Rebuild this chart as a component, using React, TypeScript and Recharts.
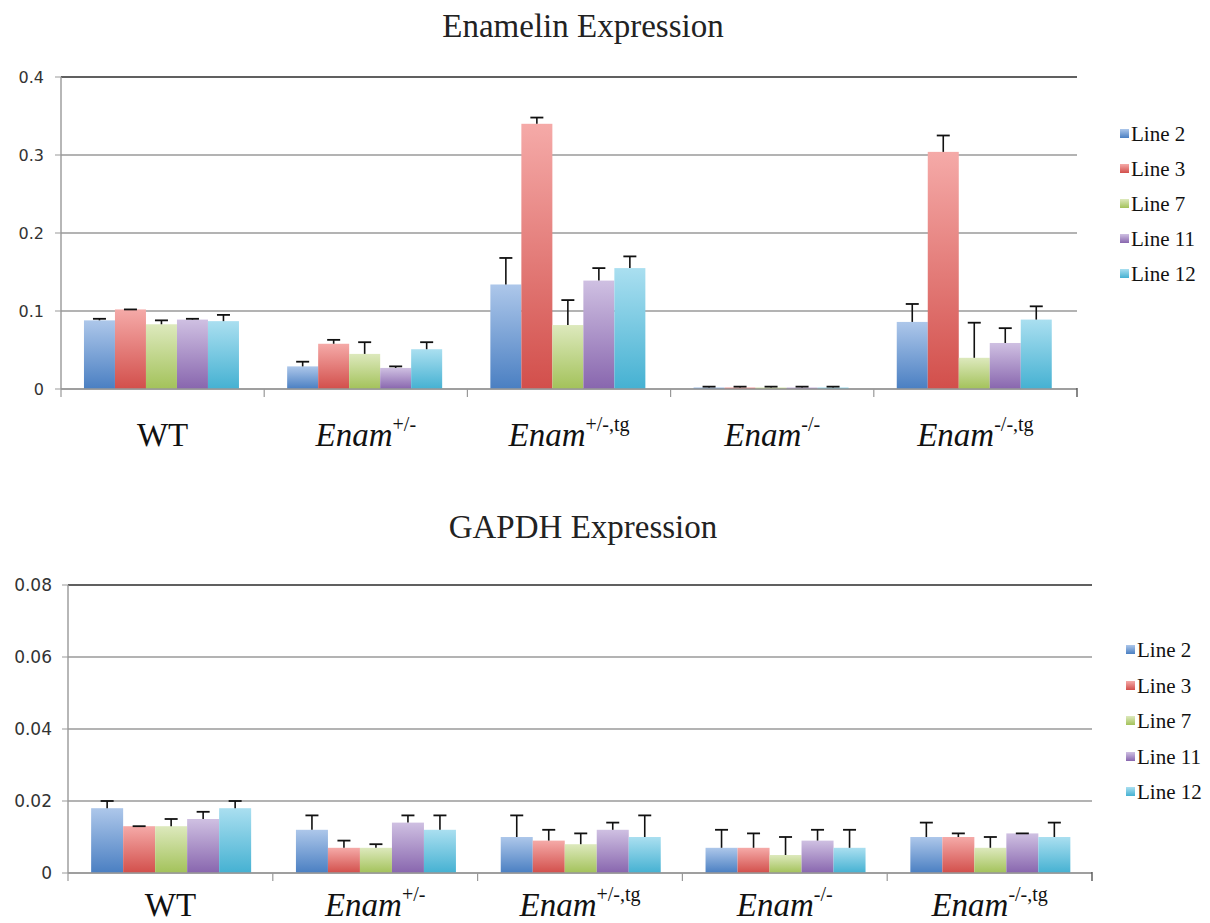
import { BarChart, Bar, XAxis, YAxis, CartesianGrid, Legend, ReferenceLine } from "recharts";

const categories = ["WT", "Enam+/-", "Enam+/-,tg", "Enam-/-", "Enam-/-,tg"];
const categoryBase = ["WT", "Enam", "Enam", "Enam", "Enam"];
const categorySup = ["", "+/-", "+/-,tg", "-/-", "-/-,tg"];

const seriesNames = ["Line 2", "Line 3", "Line 7", "Line 11", "Line 12"];
const seriesKeys = ["line2", "line3", "line7", "line11", "line12"];

// Enamelin expression (mean, upper error)
const enamLine2 = [0.088, 0.029, 0.134, 0.002, 0.086];
const enamLine2Err = [0.002, 0.006, 0.034, 0.001, 0.023];
const enamLine3 = [0.102, 0.058, 0.34, 0.002, 0.304];
const enamLine3Err = [0.0, 0.005, 0.008, 0.001, 0.021];
const enamLine7 = [0.083, 0.045, 0.082, 0.002, 0.04];
const enamLine7Err = [0.005, 0.015, 0.032, 0.001, 0.045];
const enamLine11 = [0.089, 0.027, 0.139, 0.002, 0.059];
const enamLine11Err = [0.001, 0.002, 0.016, 0.001, 0.019];
const enamLine12 = [0.087, 0.051, 0.155, 0.002, 0.089];
const enamLine12Err = [0.008, 0.009, 0.015, 0.001, 0.017];

// GAPDH expression
const gapdhLine2 = [0.018, 0.012, 0.01, 0.007, 0.01];
const gapdhLine2Err = [0.002, 0.004, 0.006, 0.005, 0.004];
const gapdhLine3 = [0.013, 0.007, 0.009, 0.007, 0.01];
const gapdhLine3Err = [0.0, 0.002, 0.003, 0.004, 0.001];
const gapdhLine7 = [0.013, 0.007, 0.008, 0.005, 0.007];
const gapdhLine7Err = [0.002, 0.001, 0.003, 0.005, 0.003];
const gapdhLine11 = [0.015, 0.014, 0.012, 0.009, 0.011];
const gapdhLine11Err = [0.002, 0.002, 0.002, 0.003, 0.0];
const gapdhLine12 = [0.018, 0.012, 0.01, 0.007, 0.01];
const gapdhLine12Err = [0.002, 0.004, 0.006, 0.005, 0.004];

const enamTicks = [0, 0.1, 0.2, 0.3, 0.4];
const gapdhTicks = [0, 0.02, 0.04, 0.06, 0.08];

// top / bottom colour of each bar gradient
const gradTop = ["#adc7ea", "#f5aaa8", "#dde9bd", "#cfc0e2", "#aadff0"];
const gradBottom = ["#4a7fc2", "#d24f4b", "#a3c25a", "#8866ae", "#45b1d2"];

const serif = "'Liberation Serif', 'Times New Roman', serif";
const sans = "'DejaVu Sans', sans-serif";

function buildRows(values: number[][], errors: number[][]) {
  return categories.map((name, i) => {
    const row: any = { name };
    seriesKeys.forEach((k, s) => {
      row[k] = values[s][i];
      row[k + "Err"] = errors[s][i];
    });
    return row;
  });
}

const enamData = buildRows(
  [enamLine2, enamLine3, enamLine7, enamLine11, enamLine12],
  [enamLine2Err, enamLine3Err, enamLine7Err, enamLine11Err, enamLine12Err]
);
const gapdhData = buildRows(
  [gapdhLine2, gapdhLine3, gapdhLine7, gapdhLine11, gapdhLine12],
  [gapdhLine2Err, gapdhLine3Err, gapdhLine7Err, gapdhLine11Err, gapdhLine12Err]
);

// bar with a one-sided (upward) error whisker
const makeShape = (key: string, grad: string) => (props: any) => {
  const { x, y, width, height, payload } = props;
  const v = payload[key];
  const e = payload[key + "Err"];
  const errPx = v > 0 ? (height * e) / v : 0;
  const cx = x + width / 2;
  const top = y - errPx;
  return (
    <g>
      <rect x={x} y={y} width={width} height={height} fill={`url(#${grad})`} />
      {errPx > 0.5 && <line x1={cx} x2={cx} y1={y} y2={top} stroke="#111" strokeWidth={1.6} />}
      <line x1={cx - 6.5} x2={cx + 6.5} y1={top} y2={top} stroke="#111" strokeWidth={1.8} />
    </g>
  );
};

const makeTick = (labelDy: number, count: number) => (props: any) => {
  const { x, y, payload, index } = props;
  const half = payload?.offset ?? 0;
  const i = index ?? categories.indexOf(payload.value);
  const base = categoryBase[i];
  const sup = categorySup[i];
  return (
    <g>
      <line x1={x - half} x2={x - half} y1={y} y2={y + 8} stroke="#999" strokeWidth={1.2} />
      {i === count - 1 && (
        <line x1={x + half} x2={x + half} y1={y - 1} y2={y + 8} stroke="#555" strokeWidth={1.4} />
      )}
      <text
        x={x}
        y={y + labelDy}
        textAnchor="middle"
        style={{ fontFamily: serif, fontSize: 33, fill: "#111" }}
      >
        <tspan style={{ fontStyle: base === "WT" ? "normal" : "italic" }}>{base}</tspan>
        {sup && (
          <tspan dy={-15} style={{ fontSize: 20, fontStyle: "normal" }}>
            {sup}
          </tspan>
        )}
      </text>
    </g>
  );
};

const makeLegend = (rowHeight: number) => () => (
  <div style={{ fontFamily: serif, fontSize: 21, color: "#111", whiteSpace: "nowrap", width: 100 }}>
    {seriesNames.map((n, s) => (
      <div key={n} style={{ display: "flex", height: rowHeight, lineHeight: `${rowHeight}px` }}>
        <div
          style={{
            flex: "0 0 9px",
            width: 9,
            height: 9,
            marginTop: 12,
            marginRight: 2,
            background: `linear-gradient(${gradTop[s]}, ${gradBottom[s]})`,
          }}
        />
        <span>{n}</span>
      </div>
    ))}
  </div>
);

type PanelProps = {
  id: string;
  data: any[];
  yMax: number;
  ticks: number[];
  height: number;
  top: number;
  right: number;
  yWidth: number;
  xHeight: number;
  labelDy: number;
  tickFont: number;
  tickGap: number;
  legendLeft: number;
  legendTop: number;
  rowHeight: number;
};

function Panel(p: PanelProps) {
  return (
    <BarChart
      width={1210}
      height={p.height}
      data={p.data}
      margin={{ top: p.top, right: p.right, left: 0, bottom: 0 }}
      barCategoryGap="11.3%"
      barGap={0}
    >
      <defs>
        {seriesKeys.map((k, s) => (
          <linearGradient key={k} id={`${p.id}-${k}`} x1="0" y1="0" x2="0" y2="1">
            <stop offset="0%" stopColor={gradTop[s]} />
            <stop offset="100%" stopColor={gradBottom[s]} />
          </linearGradient>
        ))}
      </defs>
      <CartesianGrid vertical={false} stroke="#9a9a9a" strokeWidth={1.4} yAxisId="left" />
      <XAxis
        dataKey="name"
        interval={0}
        tickLine={false}
        tickSize={0}
        tickMargin={0}
        height={p.xHeight}
        axisLine={{ stroke: "#999", strokeWidth: 1.4 }}
        tick={makeTick(p.labelDy, categories.length)}
      />
      <YAxis
        yAxisId="left"
        domain={[0, p.yMax]}
        ticks={p.ticks}
        width={p.yWidth}
        tickFormatter={(v: number) => (v === 0 ? "0" : String(v))}
        tick={{ fontSize: p.tickFont, fill: "#333", fontFamily: sans }}
        tickSize={6}
        tickMargin={p.tickGap}
        tickLine={{ stroke: "#999" }}
        axisLine={{ stroke: "#999", strokeWidth: 1.4 }}
      />
      <YAxis
        yAxisId="right"
        orientation="right"
        width={0}
        domain={[0, 1]}
        tick={false}
        tickLine={false}
        axisLine={{ stroke: "#444", strokeWidth: 1.4 }}
      />
      <ReferenceLine yAxisId="left" y={p.yMax} stroke="#444" strokeWidth={1.4} />
      {seriesKeys.map((k, s) => (
        <Bar
          key={k}
          yAxisId="left"
          dataKey={k}
          name={seriesNames[s]}
          fill={gradBottom[s]}
          shape={makeShape(k, `${p.id}-${k}`)}
          isAnimationActive={false}
        />
      ))}
      <Legend
        layout="vertical"
        align="right"
        verticalAlign="top"
        wrapperStyle={{ left: p.legendLeft, top: p.legendTop, width: 0, right: "auto" }}
        content={makeLegend(p.rowHeight)}
      />
    </BarChart>
  );
}

const titleStyle: any = {
  position: "absolute",
  left: 0,
  width: 1166,
  textAlign: "center",
  fontFamily: serif,
  fontSize: 33,
  lineHeight: "33px",
  color: "#222",
};

export default function App() {
  return (
    <div style={{ position: "absolute", left: 0, top: 0, width: 1210, height: 923, background: "#fff" }}>
      <div style={{ ...titleStyle, top: 10 }}>Enamelin Expression</div>
      <div style={{ ...titleStyle, top: 511 }}>GAPDH Expression</div>
      <div style={{ position: "absolute", left: 0, top: 0 }}>
        <Panel
          id="enam"
          data={enamData}
          yMax={0.4}
          ticks={enamTicks}
          height={460}
          top={77}
          right={133}
          yWidth={61}
          xHeight={71}
          labelDy={57}
          tickFont={16}
          tickGap={11}
          legendLeft={1120}
          legendTop={117}
          rowHeight={35}
        />
      </div>
      <div style={{ position: "absolute", left: 0, top: 480 }}>
        <Panel
          id="gapdh"
          data={gapdhData}
          yMax={0.08}
          ticks={gapdhTicks}
          height={443}
          top={105}
          right={118}
          yWidth={68}
          xHeight={50}
          labelDy={43}
          tickFont={17}
          tickGap={10}
          legendLeft={1126}
          legendTop={153}
          rowHeight={35.5}
        />
      </div>
    </div>
  );
}
